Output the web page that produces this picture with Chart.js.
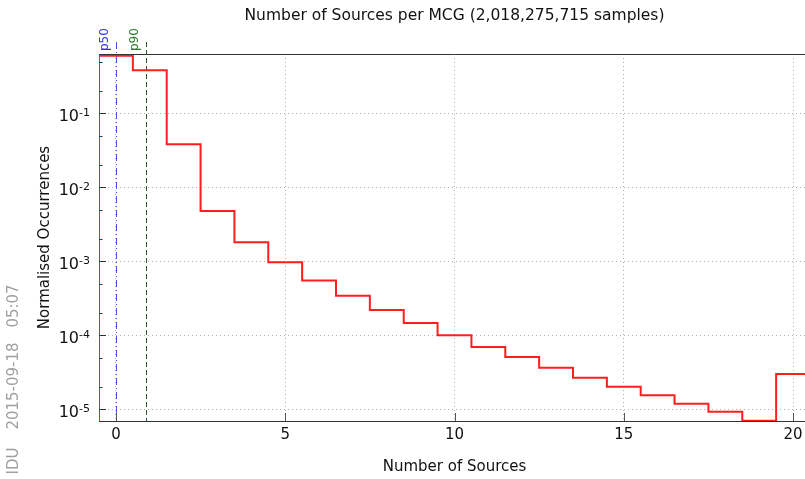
<!DOCTYPE html>
<html>
<head>
<meta charset="utf-8">
<title>Number of Sources per MCG</title>
<script src="https://cdn.jsdelivr.net/npm/chart.js@4.4.1/dist/chart.umd.min.js"></script>
<style>
  html, body { margin: 0; padding: 0; background: #fff; overflow: hidden; }
  #wrap { position: relative; width: 805px; height: 479px; overflow: hidden; }
  canvas { display: block; }
</style>
</head>
<body>
<div id="wrap"><canvas id="chartSources" width="830" height="479"></canvas></div>
<script>
// histogram: bin centres (number of sources) and normalised occurrences
const nSources = [0, 1, 2, 3, 4, 5, 6, 7, 8, 9, 10, 11, 12, 13, 14, 15, 16, 17, 18, 19, 20];
const occurrences = [
  0.60, 0.381, 0.0381, 0.00479, 0.00181, 9.7e-4, 5.5e-4, 3.43e-4, 2.2e-4, 1.47e-4,
  1.0e-4, 6.95e-5, 5.09e-5, 3.65e-5, 2.67e-5, 2.02e-5, 1.55e-5, 1.19e-5, 9.3e-6, 7.0e-6, 3.0e-5
];

// percentile markers
const pLabels = ["p50", "p90"];
const pValues = [0.0, 0.88];

// axis ticks
const xTickValues = [0, 5, 10, 15, 20];
const yTickExponents = [-5, -4, -3, -2, -1];

const FONT = "'DejaVu Sans', 'Liberation Sans', sans-serif";
const pColors = ["#4b4bff", "#2a552a"];
const pTextColors = ["#3030ff", "#2a7a2a"];
const pDashes = [[7, 3, 1, 3], [5, 3]];

// step outline: a point on every bin edge, starting from below the axis
const stepPoints = [{ x: nSources[0] - 0.5, y: 1e-7 }];
nSources.forEach((n, i) => {
  stepPoints.push({ x: n - 0.5, y: occurrences[i] });
});
stepPoints.push({ x: nSources[nSources.length - 1] + 0.5, y: occurrences[occurrences.length - 1] });

const extrasPlugin = {
  id: "extras",
  beforeDatasetsDraw(chart) {
    const { ctx, chartArea: a, scales: { x } } = chart;
    ctx.save();
    pLabels.forEach((lbl, i) => {
      const px = Math.round(x.getPixelForValue(pValues[i])) + 0.5;
      ctx.strokeStyle = pColors[i];
      ctx.lineWidth = 1;
      ctx.setLineDash(pDashes[i]);
      ctx.beginPath();
      ctx.moveTo(px, a.top - 12);
      ctx.lineTo(px, a.bottom);
      ctx.stroke();
      ctx.setLineDash([]);

      ctx.save();
      ctx.translate(px - 12, a.top - 3);
      ctx.rotate(-Math.PI / 2);
      ctx.fillStyle = pTextColors[i];
      ctx.font = "12px " + FONT;
      ctx.textAlign = "left";
      ctx.textBaseline = "middle";
      ctx.fillText(lbl, 0, 0);
      ctx.restore();
    });
    ctx.restore();
  },
  afterDraw(chart) {
    const { ctx, chartArea: a, scales: { x, y } } = chart;
    ctx.save();

    // top frame line
    ctx.strokeStyle = "#333";
    ctx.lineWidth = 1;
    ctx.beginPath();
    ctx.moveTo(a.left, Math.round(a.top) + 0.5);
    ctx.lineTo(a.right, Math.round(a.top) + 0.5);
    ctx.stroke();

    // inward y ticks: long at decades, short at 2x and 5x
    yTickExponents.concat([0, -6]).forEach((e) => {
      [1, 2, 5].forEach((m) => {
        const v = m * Math.pow(10, e);
        if (v < y.min || v > y.max) return;
        const py = Math.round(y.getPixelForValue(v)) + 0.5;
        ctx.beginPath();
        ctx.moveTo(a.left, py);
        ctx.lineTo(a.left + (m === 1 ? 7 : 3.5), py);
        ctx.stroke();
      });
    });

    // inward x ticks
    ctx.strokeStyle = "#555";
    xTickValues.forEach((v) => {
      const px = Math.round(x.getPixelForValue(v)) + 0.5;
      ctx.beginPath();
      ctx.moveTo(px, a.bottom);
      ctx.lineTo(px, a.bottom - 8);
      ctx.stroke();
    });

    // y tick labels as 10^e
    ctx.fillStyle = "#111";
    ctx.textAlign = "right";
    ctx.textBaseline = "alphabetic";
    yTickExponents.forEach((e) => {
      const py = y.getPixelForValue(Math.pow(10, e));
      const expText = String(e);
      ctx.font = "11px " + FONT;
      const w = ctx.measureText(expText).width;
      ctx.fillText(expText, 90, py + 3);
      ctx.font = "16px " + FONT;
      ctx.fillText("10", 90 - w, py + 8);
    });

    // stamp along the left edge
    ctx.fillStyle = "#a0a0a0";
    ctx.font = "15px " + FONT;
    ctx.textAlign = "center";
    ctx.textBaseline = "middle";
    [["IDU", 461], ["2015-09-18", 386], ["05:07", 306]].forEach(([t, cy]) => {
      ctx.save();
      ctx.translate(14, cy);
      ctx.rotate(-Math.PI / 2);
      ctx.fillText(t, 0, 0);
      ctx.restore();
    });

    ctx.restore();
  }
};

const ctx = document.getElementById("chartSources").getContext("2d");
const chart = new Chart(ctx, {
  type: "line",
  data: {
    datasets: [
      {
        label: "Number of Sources",
        data: stepPoints,
        stepped: true,
        borderColor: "rgb(255, 30, 30)",
        borderWidth: 2,
        pointRadius: 0,
        fill: false,
      },
    ],
  },
  options: {
    responsive: false,
    animation: false,
    devicePixelRatio: 1,
    layout: { padding: { left: 0, right: 20, top: 0, bottom: 0 } },
    plugins: {
      legend: { display: false },
      tooltip: { enabled: false },
      title: {
        display: true,
        text: "Number of Sources per MCG (2,018,275,715 samples)",
        color: "#111",
        font: { family: FONT, size: 15.5, weight: "normal" },
        padding: { top: 6.7, bottom: 28.7 },
        fullSize: false,
      },
    },
    scales: {
      x: {
        type: "linear",
        min: -0.5,
        max: 20.5,
        afterBuildTicks: (s) => {
          s.ticks = xTickValues.map((v) => ({ value: v }));
        },
        afterFit: (s) => {
          s.height = 58;
        },
        ticks: {
          color: "#111",
          font: { family: FONT, size: 15 },
          padding: 5,
          maxRotation: 0,
        },
        grid: { color: "#b0b0b0", lineWidth: 1, drawTicks: false },
        border: { display: true, color: "#333", width: 1, dash: [1, 3] },
        title: {
          display: true,
          text: "Number of Sources",
          color: "#111",
          font: { family: FONT, size: 15 },
          padding: { top: 0, bottom: 3 },
        },
      },
      y: {
        type: "logarithmic",
        min: 6.95e-6,
        max: 0.632,
        afterBuildTicks: (s) => {
          s.ticks = yTickExponents.map((e) => ({ value: Math.pow(10, e) }));
        },
        afterFit: (s) => {
          s.width = 99;
        },
        ticks: { display: false },
        grid: { color: "#b0b0b0", lineWidth: 1, drawTicks: false },
        border: { display: true, color: "#333", width: 1, dash: [1, 3] },
        title: {
          display: true,
          text: "Normalised Occurrences",
          color: "#111",
          font: { family: FONT, size: 15 },
          padding: { top: 36, bottom: 0 },
        },
      },
    },
  },
  plugins: [extrasPlugin],
});
</script>
</body>
</html>
